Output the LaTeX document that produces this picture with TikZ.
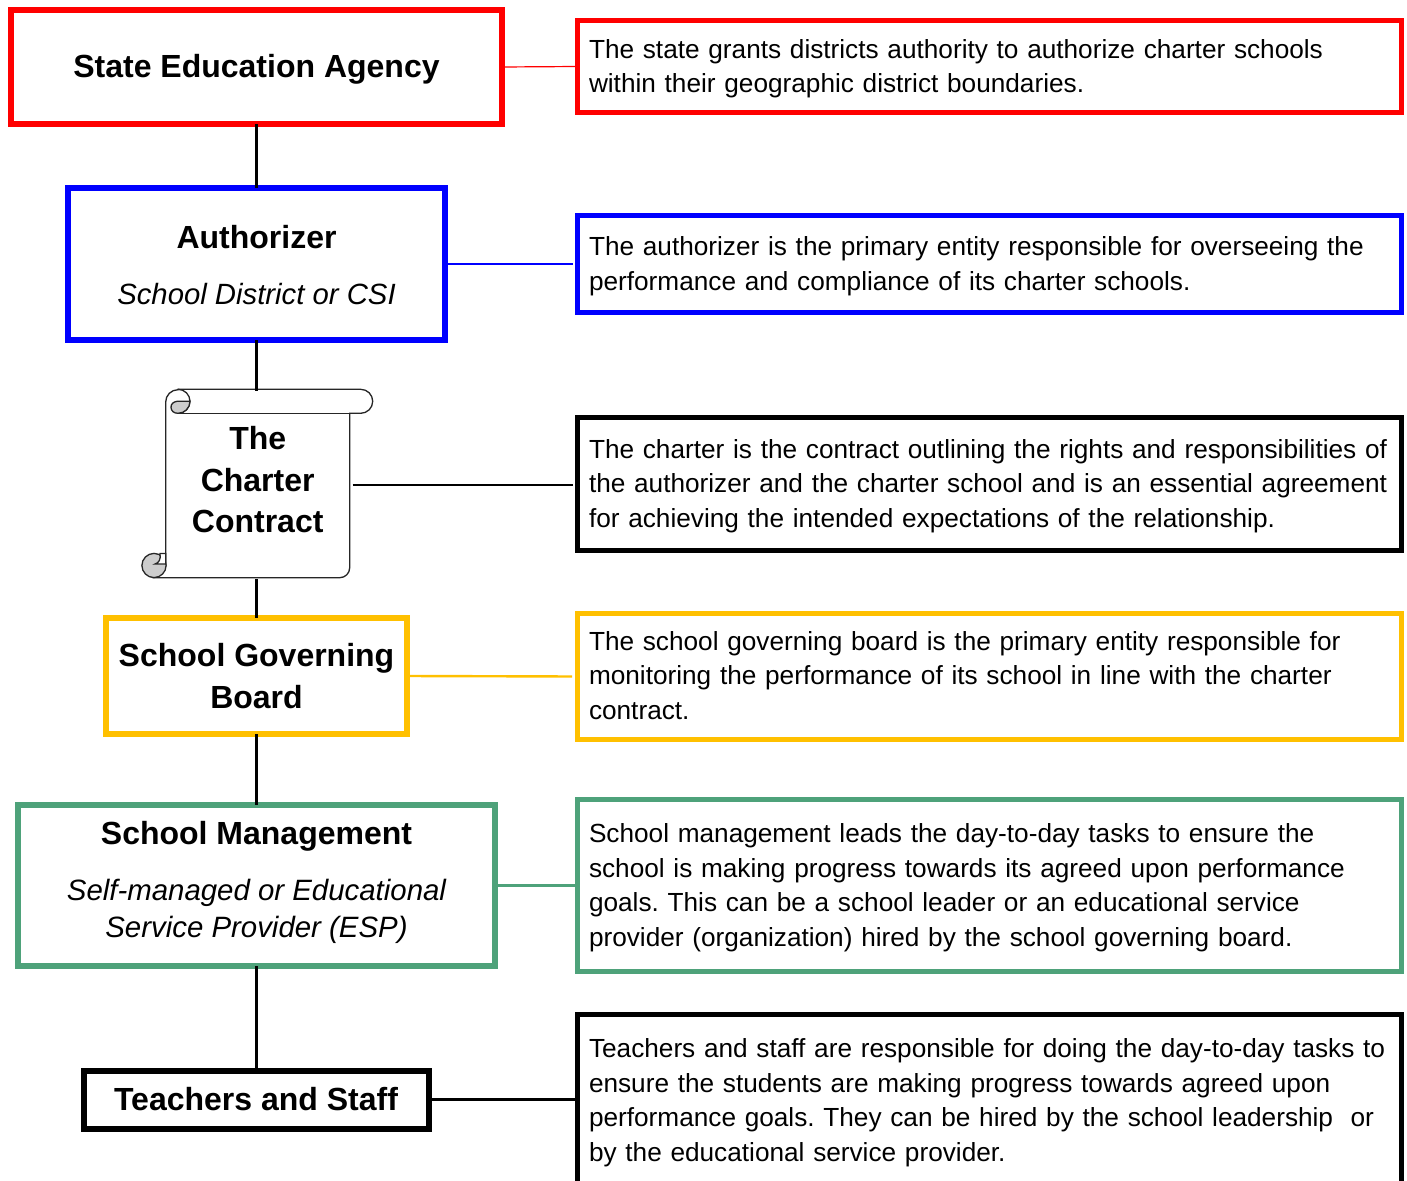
\documentclass[tikz,border=0pt]{standalone}
\usepackage{fontspec}
\setmainfont{Liberation Sans}
\definecolor{gov}{HTML}{FFC000}
\definecolor{mgt}{HTML}{4EA27A}
\definecolor{curl}{HTML}{CDCDCD}
\newcommand{\headfont}{\fontsize{32}{41.5}\selectfont\bfseries}
\newcommand{\tightfont}{\fontsize{32}{37}\selectfont\bfseries}
\newcommand{\subfont}{\normalfont\fontsize{29.3}{37}\selectfont\itshape}
\newcommand{\subfontb}{\normalfont\fontsize{29.4}{37}\selectfont\itshape}
\newcommand{\descfont}{\fontsize{26.2}{34.5}\selectfont\frenchspacing}
\newcommand{\descshift}[2]{\raisebox{#1}[\height][\depth]{\parbox{801pt}{#2}}}
\newcommand{\headshift}[3]{\raisebox{#1}[\height][\depth]{\parbox{#2}{\centering #3}}}
\tikzset{
  x=1pt,y=-1pt,
  leftbox/.style={draw=#1,line width=6pt,align=center,inner sep=0pt,outer sep=0pt,fill=white,font=\headfont},
  descbox/.style={draw=#1,line width=5pt,align=left,inner xsep=11.5pt,inner ysep=0pt,outer sep=0pt,
     text width=801pt,minimum width=824pt,fill=white,font=\descfont},
  link/.style={line width=2.4pt,draw=black},
  scrollline/.style={line width=1.3pt,draw=black!85},
}
\begin{document}
\begin{tikzpicture}
\useasboundingbox (0,0) rectangle (1407,1180);
\clip (0,0) rectangle (1407,1180);
% left column
\node[leftbox=red,minimum width=491pt,minimum height=114pt] (state) at (256.5,67) {\raisebox{-2pt}[\height][\depth]{State Education Agency}};
\node[leftbox=blue,minimum width=377pt,minimum height=152pt] (auth) at (256.5,264) {\headshift{-1pt}{370pt}{Authorizer\\[19pt]\subfont School District or CSI}};
\node[minimum width=184pt,minimum height=188pt,inner sep=0pt,outer sep=0pt] (charter) at (257.7,485) {};
\node[leftbox=gov,minimum width=301pt,minimum height=116pt] (board) at (256.5,676) {School Governing\\Board};
\node[leftbox=mgt,minimum width=477pt,minimum height=161pt,font=\tightfont] (mgmt) at (256.5,885.5) {\headshift{3pt}{470pt}{School Management\\[19.5pt]\subfontb Self-managed or Educational\\Service Provider (ESP)}};
\node[leftbox=black,minimum width=345pt,minimum height=58pt] (staff) at (256,1099.5) {\raisebox{0.5pt}[\height][\depth]{Teachers and Staff}};
% scroll
\draw[scrollline,fill=white] (178,389.3) -- (360.7,389.3) arc[start angle=-90,end angle=90,radius=12] -- (349.7,413.3)
   -- (349.7,567.7) arc[start angle=0,end angle=90,radius=10] -- (154,577.7) -- (165.7,566)
   -- (165.7,402) arc[start angle=180,end angle=270,radius=12.3] -- cycle;
\draw[scrollline] (178,413.3) -- (349.7,413.3);
\draw[scrollline] (178,389.3) arc[start angle=-90,end angle=90,radius=12];
\draw[scrollline,fill=curl] (189.9,401.3) -- (177,401.3) .. controls (173,402) and (171,404) .. (171,407.3)
   .. controls (171,411) and (174,413.3) .. (178,413.3) arc[start angle=90,end angle=0,radius=12] -- cycle;
\draw[scrollline,fill=curl] (154,565.5) circle[radius=12.1];
\draw[scrollline,fill=white] (165.7,553.5) -- (160,553.5) .. controls (161,559) and (159,563) .. (155,564) -- (165.7,564) -- cycle;
\node[align=center,inner sep=0pt,font=\headfont] (charterlabel) at (257.7,480) {The\\Charter\\Contract};
% right column
\node[descbox=red,minimum height=92pt] (d1) at (989.5,66.5) {\descshift{-2pt}{The state grants districts authority to authorize charter schools\\within their geographic district boundaries.}};
\node[descbox=blue,minimum height=97pt] (d2) at (989.5,264) {\descshift{-2pt}{The authorizer is the primary entity responsible for overseeing the\\performance and compliance of its charter schools.}};
\node[descbox=black,minimum height=133pt] (d3) at (989.5,484) {\descshift{-2pt}{The charter is the contract outlining the rights and responsibilities of\\the authorizer and the charter school and is an essential agreement\\for achieving the intended expectations of the relationship.}};
\node[descbox=gov,minimum height=126pt] (d4) at (989.5,676.5) {\descshift{1pt}{The school governing board is the primary entity responsible for\\monitoring the performance of its school in line with the charter\\contract.}};
\node[descbox=mgt,minimum height=172pt] (d5) at (989.5,885.5) {\descshift{-2pt}{School management leads the day-to-day tasks to ensure the\\school is making progress towards its agreed upon performance\\goals. This can be a school leader or an educational service\\provider (organization) hired by the school governing board.}};
\node[descbox=black,minimum height=190pt] (d6) at (989.5,1109.5) {\descshift{7pt}{Teachers and staff are responsible for doing the day-to-day tasks to\\ensure the students are making progress towards agreed upon\\performance goals. They can be hired by the school leadership\ \ or\\by the educational service provider.}};
% connectors
\draw[link] (state) -- (auth);
\draw[link] (auth) -- (auth.south |- charter.north);
\draw[link] (auth.south |- charter.south) -- (board);
\draw[link] (board) -- (mgmt);
\draw[link] (mgmt) -- (mgmt |- staff.north);
\draw[red,line width=1.2pt] (state.east) -- (d1.west);
\draw[blue,line width=2.2pt,shorten >=4.5pt] (auth.east) -- (d2.west);
\draw[link,shorten <=3pt,shorten >=4.5pt] (charter.east) -- (charter.east -| d3.west);
\draw[gov,line width=2.4pt,shorten >=5.5pt] (board.east) -- (d4.west);
\draw[mgt,line width=2.2pt] (mgmt.east) -- (d5.west);
\draw[link] (staff.east) -- (staff.east -| d6.west);
\end{tikzpicture}
\end{document}
